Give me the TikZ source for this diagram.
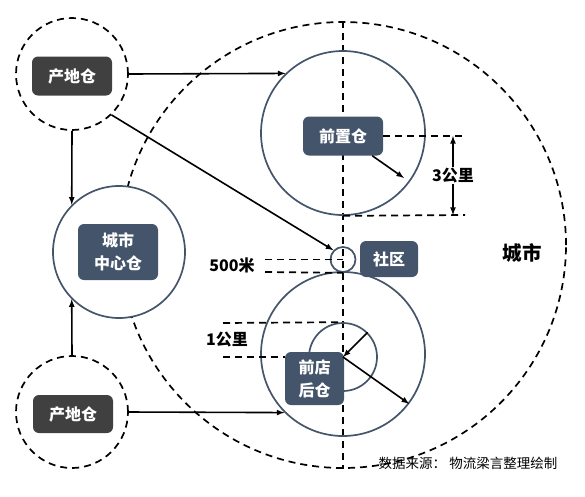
\documentclass[tikz,border=0pt]{standalone}
\usepackage{fontspec}
\newfontfamily\cjk{Noto Sans CJK SC}
\usetikzlibrary{arrows}
\definecolor{slate}{HTML}{44546A}
\definecolor{ink}{HTML}{404040}

\begin{document}
\begin{tikzpicture}[x=1pt,y=-1pt,>=latex,
		ring/.style={circle,draw=slate,line width=1.7pt,inner sep=0pt,minimum size=#1},
		dring/.style={circle,draw,line width=1.7pt,dash pattern=on 7pt off 5pt,inner sep=0pt,minimum size=#1},
		whbox/.style={rounded corners=6pt,fill=#1,text=white,inner sep=0pt,align=center,
			font=\cjk\bfseries\fontsize{16}{23}\selectfont,minimum width=80pt,minimum height=39pt},
		dim/.style={line width=1.7pt,dash pattern=on 7pt off 5pt},
		arrow/.style={line width=1.6pt},
		dimlabel/.style={inner sep=1pt,font=\cjk\bfseries\fontsize{16}{18}\selectfont}]
	\useasboundingbox (0,0) rectangle (585,496);
	% city area and its axis
	\node[dring=446pt] (city) at (343,245) {};
	\draw[dim] (city.north) -- (city.south);
	\node[font=\cjk\bfseries\fontsize{19.5}{22}\selectfont] (citylbl) at (522,253) {城市};
	% rings
	\node[dring=112pt] (src1) at (72,74) {};
	\node[dring=112pt] (src2) at (72,412) {};
	\node[ring=132pt,fill=white] (hub) at (119,252) {};
	\node[ring=164pt] (fwring) at (343,133) {};
	\node[ring=25pt] (comm) at (343,259.5) {};
	\node[ring=164pt] (shopring) at (343,354) {};
	\node[ring=68pt] (shopinner) at (343,357) {};
	% boxes
	\node[whbox=ink] (src1box) at (72,76) {产地仓};
	\node[whbox=ink,minimum height=38pt] (src2box) at (73,414) {产地仓};
	\node[whbox=slate,minimum height=56pt] (hubbox) at (118,252) {城市\\中心仓};
	\node[whbox=slate] (fwbox) at (343,136) {前置仓};
	\node[whbox=slate,minimum width=58pt,minimum height=36pt] (commbox) at (389,259) {社区};
	\node[whbox=slate,minimum width=59pt,minimum height=53pt] (shopbox) at (314.5,378.5) {前店\\后仓};
	% flows
	\coordinate (fwtip) at (404,178);
	\path[->,arrow]
	(src1.east) edge (fwring.134)
	(src1.-46) edge (comm.136)
	(src1.south) edge (hub.135)
	(src2.north) edge (hub.225)
	(src2.east) edge (shopring.225)
	(fwbox.-34) edge (fwtip)
	(shopinner.45) edge (shopinner.center)
	(shopinner.center) edge (shopring.-37);
	% 3 km
	\coordinate (fw3a) at (465,136);
	\coordinate (fw3b) at (465,215);
	\draw[dim] (fwbox.east) -- (fw3a);
	\draw[dim] (fwring.south) -- (fw3b);
	\draw[<->,arrow] ([xshift=-12pt]fw3a) -- node[dimlabel,fill=white] (lbl3km) {3公里} ([xshift=-12pt]fw3b);
	% 500 m
	\coordinate (c500a) at (265,259.5);
	\coordinate (c500b) at (265,272);
	\draw[dim] (c500a) -- (comm.center);
	\draw[dim] (c500b) -- (comm.south);
	\node[dimlabel] (lbl500) at (232,265) {500米};
	% 1 km
	\coordinate (s1a) at (223,323);
	\coordinate (s1b) at (223,357);
	\draw[dim] (s1a) -- (shopinner.north);
	\draw[dim] (s1b) -- (s1b -| shopbox.west);
	\node[dimlabel] (lbl1km) at (227,340) {1公里};
	% source
	\node[font=\cjk\fontsize{13.5}{16}\selectfont] (srcnote) at (468,463) {数据来源：\ 物流梁言整理绘制};
\end{tikzpicture}
\end{document}
